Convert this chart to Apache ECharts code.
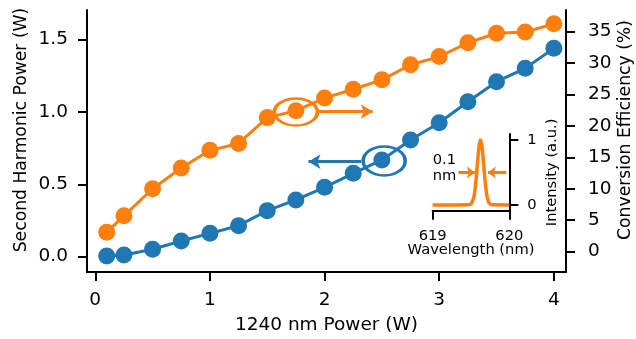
<!DOCTYPE html>
<html>
<head>
<meta charset="utf-8">
<script src="https://cdn.jsdelivr.net/npm/echarts@6/dist/echarts.min.js"></script>
<style>
  html, body { margin: 0; padding: 0; background: #fff; }
  #main { width: 636px; height: 339px; }
</style>
</head>
<body>
<div id="main"></div>
<script>
  // pump power (W)
  var pumpPower = [0.1, 0.25, 0.5, 0.75, 1.0, 1.25, 1.5, 1.75, 2.0, 2.25, 2.5, 2.75, 3.0, 3.25, 3.5, 3.75, 4.0];
  // second harmonic power (W), left axis
  var shgPower = [0.005, 0.012, 0.051, 0.108, 0.161, 0.214, 0.318, 0.392, 0.479, 0.576, 0.668, 0.806, 0.925, 1.070, 1.209, 1.301, 1.439];
  // conversion efficiency (%), right axis
  var efficiency = [3.1, 5.7, 10.0, 13.3, 16.1, 17.2, 21.3, 22.4, 24.4, 25.8, 27.3, 29.7, 31.0, 33.2, 34.7, 34.9, 36.2];
  // inset spectrum
  var wavelength = [619.0, 619.3, 619.46, 619.5, 619.54, 619.56, 619.58, 619.6, 619.62, 619.64, 619.66, 619.68, 619.7, 619.72, 619.74, 619.78, 620.0];
  var intensity = [0, 0, 0.002, 0.014, 0.14, 0.32, 0.58, 0.85, 1.0, 0.93, 0.70, 0.42, 0.20, 0.08, 0.024, 0.002, 0];

  var xTicks = [0, 1, 2, 3, 4];
  var leftTicks = [0, 0.5, 1.0, 1.5];
  var rightTicks = [0, 5, 10, 15, 20, 25, 30, 35];
  var insetYTicks = [0, 1];

  var blue = '#1f77b4';
  var orange = '#ff7f0e';
  var font = 'DejaVu Sans';
  var big = 18.5, yName = 17.2, small = 14.7;

  function zip(a, b) {
    return a.map(function (v, i) { return [v, b[i]]; });
  }

  var spine = { show: true, onZero: false, lineStyle: { color: '#000', width: 2 } };

  var myChart = echarts.init(document.getElementById('main'), null, { renderer: 'canvas' });
  var option = {
    animation: false,
    textStyle: { fontFamily: font },
    grid: [
      { left: 87, right: 70, top: 10, bottom: 67, outerBoundsMode: 'none', containLabel: false },
      { left: 432.7, right: 126.7, top: 134, bottom: 128.3, outerBoundsMode: 'none', containLabel: false }
    ],
    xAxis: [
      {
        type: 'value', gridIndex: 0, min: -0.072, max: 4.106,
        axisLine: spine,
        axisTick: { show: true, length: 9, lineStyle: { color: '#000', width: 2 }, customValues: xTicks },
        axisLabel: { color: '#000', fontSize: big, margin: 19, customValues: xTicks, fontFamily: font },
        splitLine: { show: false },
        name: '1240 nm Power (W)', nameLocation: 'middle', nameGap: 44, nameMoveOverlap: false,
        nameTextStyle: { color: '#000', fontSize: big, fontFamily: font }
      },
      {
        type: 'value', gridIndex: 1, min: 619, max: 620, interval: 1,
        axisLine: spine,
        axisTick: { show: true, length: 9, lineStyle: { color: '#000', width: 2 } },
        axisLabel: { color: '#000', fontSize: small, margin: 18, fontFamily: font },
        splitLine: { show: false },
        name: 'Wavelength (nm)', nameLocation: 'middle', nameGap: 32, nameMoveOverlap: false,
        nameTextStyle: { color: '#000', fontSize: small, fontFamily: font }
      }
    ],
    yAxis: [
      {
        type: 'value', gridIndex: 0, position: 'left', min: -0.106, max: 1.704,
        axisLine: spine,
        axisTick: { show: true, length: 9, lineStyle: { color: '#000', width: 2 }, customValues: leftTicks },
        axisLabel: { color: '#000', fontSize: big, margin: 19, customValues: leftTicks, fontFamily: font,
          formatter: function (v) { return v.toFixed(1); } },
        splitLine: { show: false },
        name: 'Second Harmonic Power (W)', nameLocation: 'middle', nameGap: 57, nameRotate: 90, nameMoveOverlap: false,
        nameTextStyle: { color: '#000', fontSize: yName, fontFamily: font, padding: [0, 0, 0, 22] }
      },
      {
        type: 'value', gridIndex: 0, position: 'right', min: -3.23, max: 38.4,
        axisLine: spine,
        axisTick: { show: true, length: 9, lineStyle: { color: '#000', width: 2 }, customValues: rightTicks },
        axisLabel: { color: '#000', fontSize: big, margin: 22, customValues: rightTicks, fontFamily: font },
        splitLine: { show: false },
        name: 'Conversion Efficiency (%)', nameLocation: 'middle', nameGap: 51, nameRotate: 90, nameMoveOverlap: false,
        nameTextStyle: { color: '#000', fontSize: yName, fontFamily: font, padding: [0, 0, 0, 22] }
      },
      {
        type: 'value', gridIndex: 1, position: 'right', min: -0.088, max: 1.092,
        axisLine: spine,
        axisTick: { show: true, length: 9, lineStyle: { color: '#000', width: 2 }, customValues: insetYTicks },
        axisLabel: { color: '#000', fontSize: small, margin: 18, customValues: insetYTicks, fontFamily: font },
        splitLine: { show: false },
        name: 'Intensity (a.u.)', nameLocation: 'middle', nameGap: 35, nameRotate: 90, nameMoveOverlap: false,
        nameTextStyle: { color: '#000', fontSize: small, fontFamily: font }
      }
    ],
    series: [
      {
        type: 'line', xAxisIndex: 0, yAxisIndex: 0,
        data: zip(pumpPower, shgPower),
        symbol: 'circle', symbolSize: 17,
        lineStyle: { color: blue, width: 3 },
        itemStyle: { color: blue },
        markPoint: {
          silent: true,
          symbol: 'circle', symbolSize: [42, 29],
          itemStyle: { color: 'rgba(0,0,0,0)', borderColor: blue, borderWidth: 3 },
          label: { show: false },
          data: [{ coord: [2.52, 0.661] }]
        },
        markLine: {
          silent: true,
          symbol: ['none', 'arrow'], symbolSize: [11, 12],
          lineStyle: { color: blue, width: 3, type: 'solid' },
          label: { show: false },
          data: [[{ coord: [2.32, 0.656] }, { coord: [1.86, 0.656] }]]
        }
      },
      {
        type: 'line', xAxisIndex: 0, yAxisIndex: 1,
        data: zip(pumpPower, efficiency),
        symbol: 'circle', symbolSize: 17,
        lineStyle: { color: orange, width: 3 },
        itemStyle: { color: orange },
        markPoint: {
          silent: true,
          symbol: 'circle', symbolSize: [43, 27],
          itemStyle: { color: 'rgba(0,0,0,0)', borderColor: orange, borderWidth: 3 },
          label: { show: false },
          data: [{ coord: [1.75, 22.2] }]
        },
        markLine: {
          silent: true,
          symbol: ['none', 'arrow'], symbolSize: [11, 12],
          lineStyle: { color: orange, width: 3, type: 'solid' },
          label: { show: false },
          data: [[{ coord: [1.95, 22.26] }, { coord: [2.42, 22.26] }]]
        }
      },
      {
        type: 'line', xAxisIndex: 1, yAxisIndex: 2,
        data: zip(wavelength, intensity),
        showSymbol: false, smooth: 0.3,
        lineStyle: { color: orange, width: 3.5 },
        markLine: {
          silent: true,
          symbol: ['none', 'arrow'], symbolSize: [9, 8],
          lineStyle: { color: orange, width: 3, type: 'solid' },
          label: { show: false },
          data: [
            [{ coord: [619.335, 0.5] }, { coord: [619.55, 0.5] }],
            [{ coord: [619.96, 0.5] }, { coord: [619.72, 0.5] }]
          ]
        },
        markPoint: {
          silent: true,
          symbol: 'circle', symbolSize: 0,
          label: {
            show: true, position: 'right', distance: 0, formatter: '0.1\nnm',
            color: '#000', fontSize: small, lineHeight: 16, fontFamily: font, align: 'left'
          },
          data: [{ coord: [619.0, 0.56] }]
        }
      }
    ]
  };
  myChart.setOption(option);
</script>
</body>
</html>
